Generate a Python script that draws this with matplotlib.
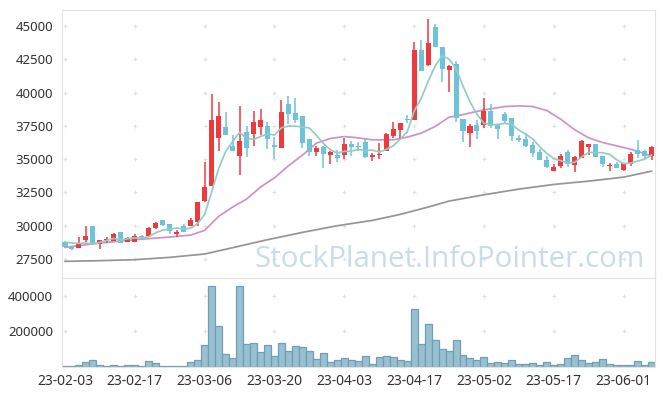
import numpy as np
import matplotlib
matplotlib.use('Agg')
import matplotlib.pyplot as plt

# OHLC (one entry per trading day)
opens = [28800, 28375, 28300, 28950, 29950, 28600, 28900, 28825, 29525, 28750,
         28750, 29250, 29200, 29800, 30425, 30125, 29400, 29975, 29975, 30250,
         31875, 32950, 36575, 37425, 35975, 35200, 37050, 36925, 37450, 37500,
         36075, 35875, 39150, 38475, 38250, 36500, 35550, 35900, 35275, 35300,
         35275, 36150, 36025, 36275, 35150, 35275, 35575, 36775, 37200, 38050,
         37950, 43200, 42100, 44950, 43425, 41725, 42150, 38025, 37000, 37575,
         37600, 38650, 37600, 38400, 38100, 36600, 36525, 36075, 35525, 34950,
         34075, 34450, 35525, 34575, 35050, 35950, 36150, 35250, 34450, 34650,
         34175, 34625, 35700, 35575, 35225]
highs = [28850, 28400, 29125, 30000, 29975, 28950, 29150, 29425, 29550, 29150,
         29350, 29300, 29900, 30275, 30450, 30125, 29675, 30100, 30575, 31800,
         34775, 39875, 39275, 38550, 36825, 39000, 37475, 38625, 38775, 37775,
         36650, 39425, 39750, 39600, 38250, 36500, 35975, 36025, 35600, 35700,
         36575, 36375, 36275, 36525, 35450, 36200, 37000, 37775, 37725, 38300,
         43775, 43925, 45525, 45150, 43425, 42100, 42375, 38025, 37650, 37925,
         39575, 39125, 37650, 38575, 38100, 36825, 36975, 36300, 35750, 35250,
         34625, 35375, 35675, 35250, 36425, 36150, 36175, 35250, 34675, 34775,
         34675, 35550, 36425, 35650, 35975]
lows = [28350, 28150, 28300, 28800, 28575, 28250, 28675, 28825, 28675, 28750,
        28750, 29000, 29200, 29775, 30000, 29375, 29150, 29500, 29975, 29950,
        31775, 32950, 35600, 36800, 35575, 33825, 35125, 35975, 36850, 35725,
        35025, 35875, 37650, 37750, 35800, 35225, 35200, 34350, 34600, 34800,
        35025, 35250, 35575, 35050, 34825, 35000, 35575, 36575, 36450, 37750,
        37950, 41600, 42000, 43400, 40775, 40025, 37825, 36325, 35900, 36525,
        37325, 37325, 36500, 37700, 36375, 36275, 35950, 35125, 34900, 34300,
        34075, 34325, 34400, 34025, 35050, 35325, 35175, 34375, 34100, 34350,
        34100, 34500, 35100, 34975, 34925]
closes = [28375, 28225, 28700, 29250, 28625, 28925, 29025, 29400, 28675, 29075,
          29250, 29050, 29825, 30200, 30025, 29575, 29500, 29525, 30450, 31800,
          32925, 37975, 38250, 36850, 35575, 36375, 35800, 37800, 37950, 36550,
          35950, 38525, 38425, 37950, 36250, 35525, 35825, 35350, 35550, 35050,
          36125, 35950, 35925, 35150, 35275, 35400, 36875, 37275, 37700, 37950,
          43200, 41625, 43725, 43450, 41800, 42000, 38075, 37125, 37500, 37150,
          38625, 37500, 37275, 37875, 36750, 36450, 36025, 35475, 34900, 34375,
          34425, 35250, 34650, 35150, 36350, 36150, 35175, 34600, 34525, 34350,
          34675, 35350, 35400, 35200, 35925]
volumes = [5600, 5000, 11000, 26000, 39000, 11000, 5600, 11000, 5600, 11000,
           11000, 5000, 34000, 22000, 4000, 4000, 4000, 4000, 28000, 39000,
           122000, 455000, 230000, 71000, 50000, 455000, 129000, 133000, 82000, 122000,
           62000, 133000, 90000, 116000, 112000, 88000, 45000, 77000, 28000, 39000,
           50000, 39000, 33000, 60000, 15000, 54000, 60000, 54000, 37000, 32000,
           324000, 127000, 240000, 150000, 99000, 88000, 150000, 66000, 49000, 37000,
           54000, 21000, 26000, 21000, 37000, 15000, 15000, 21000, 9000, 26000,
           9000, 15000, 49000, 66000, 37000, 21000, 26000, 43000, 15000, 9000,
           9000, 9000, 32000, 9000, 26000]

# moving average lines
ma5 = [28750, 28700, 28675, 28700, 28635, 28745, 28905, 29045, 28930, 29020,
       29085, 29090, 29175, 29480, 29670, 29735, 29825, 29765, 29815, 30170,
       30840, 32535, 34280, 35560, 36315, 37005, 36570, 36480, 36700, 36895,
       36810, 37355, 37480, 37480, 37420, 37335, 36795, 36180, 35700, 35460,
       35580, 35605, 35720, 35640, 35685, 35540, 35725, 35995, 36505, 37040,
       38600, 39550, 40840, 41990, 42760, 42520, 41810, 40490, 39300, 38370,
       37695, 37580, 37610, 37685, 37605, 37170, 36875, 36515, 35920, 35445,
       35040, 34885, 34720, 34770, 35165, 35510, 35495, 35485, 35360, 34960,
       34665, 34700, 34860, 34995, 35310]
ma20_idx = [0, 5, 10, 15, 18, 20, 22, 24, 26, 28, 30, 32, 34, 36, 38, 40, 42, 44,
            47, 49, 51, 53, 55, 57, 60, 63, 65, 67, 69, 71, 73, 75, 77, 79, 81, 84]
ma20 = [28375, 28700, 28950, 29150, 29300, 29650, 30700, 31400, 32000, 32900,
        33600, 34500, 35300, 36200, 36550, 36700, 36600, 36450, 36450, 36650,
        36950, 37450, 38150, 38350, 38700, 38950, 39000, 38950, 38650, 38000,
        37200, 36600, 36250, 36000, 35750, 35250]
ma120_idx = [0, 5, 10, 15, 20, 24, 29, 34, 39, 44, 48, 52, 55, 60, 65, 70, 75, 80, 84]
ma120 = [27325, 27375, 27450, 27625, 27875, 28350, 28950, 29500, 30000, 30400,
         30850, 31400, 31850, 32325, 32750, 33100, 33350, 33650, 34100]

tick_labels = ['23-02-03', '23-02-17', '23-03-06', '23-03-20', '23-04-03',
               '23-04-17', '23-05-02', '23-05-17', '23-06-01']

up_color = '#ef3a3d'
down_color = '#6ec3db'

o = np.array(opens); c = np.array(closes)
h = np.array(highs); l = np.array(lows)
x = np.arange(len(o))
up = c >= o

fig = plt.figure(figsize=(6.65, 3.96), dpi=100)
ax = fig.add_axes([0.0925, 0.298, 0.8925, 0.6767])
axv = fig.add_axes([0.0925, 0.0732, 0.8925, 0.2248], sharex=ax)

font = 'Noto Sans'
plt.rcParams['font.family'] = font

# candles
cols = np.where(up, up_color, down_color)
ax.vlines(x, l, h, colors=cols, linewidth=1.1, zorder=3)
body = np.maximum(np.abs(c - o), 90)
ax.bar(x, body, bottom=np.minimum(o, c), width=0.72, color=cols, linewidth=0, zorder=4)

ax.plot(x, ma5, color='#92cdc5', lw=1.25, zorder=5)
ax.plot(ma20_idx, ma20, color='#cd92ca', lw=1.25, zorder=2)
ax.plot(ma120_idx, ma120, color='#959595', lw=1.25, zorder=2)

ax.text(0.983, 0.041, 'StockPlanet.InfoPointer.com', transform=ax.transAxes,
        ha='right', va='baseline', fontsize=21.3, color='#c9dce8',
        family='Open Sans', zorder=1)

# volume
axv.bar(x, volumes, width=1.0, color='#98c0d0', edgecolor='#6e9fb6', linewidth=0.9)

ax.set_xlim(-0.5, len(o) - 0.5)
ax.set_ylim(26075, 46200)
axv.set_ylim(0, 500000)

yt = np.arange(27500, 45001, 2500)
ax.set_yticks(yt)
ax.set_yticklabels([str(v) for v in yt])
vt = [200000, 400000]
axv.set_yticks(vt)
axv.set_yticklabels([str(v) for v in vt])
xt = np.arange(0, len(o), 10)
axv.set_xticks(xt)
axv.set_xticklabels(tick_labels)
ax.tick_params(axis='x', labelbottom=False)

# faint "+" grid marks at tick crossings
gx, gy = np.meshgrid(xt, yt)
ax.scatter(gx.ravel(), gy.ravel(), marker='+', s=12, color='#e2e2e2', linewidths=0.8, zorder=0)
gx, gy = np.meshgrid(xt, vt)
axv.scatter(gx.ravel(), gy.ravel(), marker='+', s=12, color='#e2e2e2', linewidths=0.8, zorder=0)

for a in (ax, axv):
    a.tick_params(length=0, labelsize=9.5, labelcolor='#333333', pad=6)
    for s in a.spines.values():
        s.set_color('#e3e3e3')
    for t in a.get_xticklabels() + a.get_yticklabels():
        t.set_family(font)
axv.tick_params(axis='x', pad=5, labelsize=10)

plt.savefig('out.png', dpi=100)
